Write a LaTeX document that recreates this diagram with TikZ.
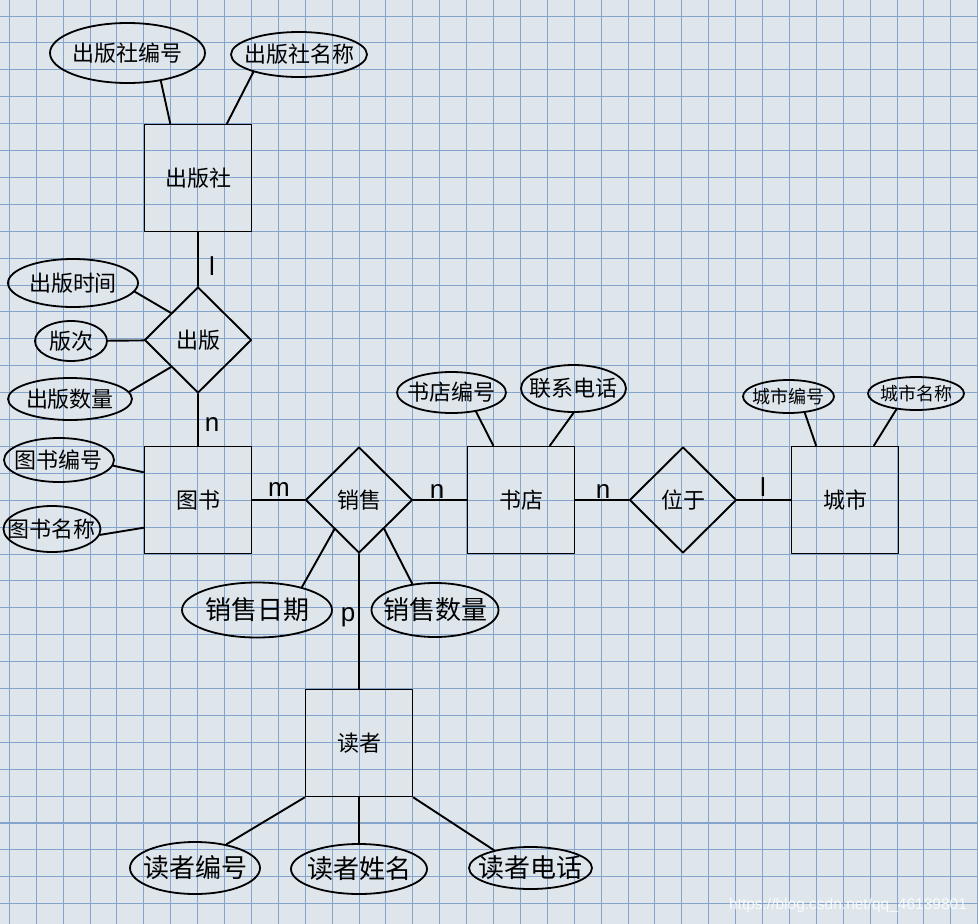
\documentclass[tikz,border=0pt]{standalone}
\usepackage{fontspec}
\setmainfont{Liberation Sans}
\newfontfamily\cjk{Noto Sans CJK SC}
\usepackage{tikz}
\usetikzlibrary{shapes.geometric}
\definecolor{paperblue}{RGB}{222,230,236}
\definecolor{gridblue}{RGB}{132,164,204}
\newcommand{\attrtext}[1]{\makebox[0pt]{#1}}

\tikzset{
  entity/.style={draw,line width=1.9pt,minimum width=107pt,minimum height=107pt,inner sep=0pt,font=\cjk\fontsize{22}{22}\selectfont},
  relation/.style={diamond,draw,line width=1.9pt,minimum width=107pt,minimum height=106pt,inner sep=0pt,font=\cjk\fontsize{22}{22}\selectfont},
  attr/.style={ellipse,draw,line width=1.8pt,inner sep=0pt,font=\cjk\fontsize{22}{22}\selectfont},
  bigattr/.style={attr,font=\cjk\fontsize{26}{26}\selectfont},
  smallattr/.style={attr,font=\cjk\fontsize{18}{18}\selectfont},
  card/.style={inner sep=0pt,font=\fontsize{26}{26}\selectfont},
  link/.style={line width=1.9pt},
  gridline/.style={gridblue,line width=0.9pt}
}

\begin{document}
\begin{tikzpicture}[x=1pt,y=-1pt,line cap=round,line join=round]
  % paper
  \useasboundingbox (0,0) rectangle (978,924);
  \fill[paperblue] (0,0) rectangle (978,924);
  \foreach \i in {0,...,36}
    \draw[gridline] (9.3+26.9*\i,0) -- (9.3+26.9*\i,924);
  \foreach \j in {0,...,33}
    \draw[gridline] (0,16+26.9*\j) -- (978,16+26.9*\j);
  \draw[gridblue,line width=2pt] (0,823) -- (978,823); % fold

  % entities
  \node[entity] (pub) at (198,178) {出版社};
  \node[entity] (book) at (198,500) {图书};
  \node[entity] (store) at (521,500) {书店};
  \node[entity] (city) at (845,500) {城市};
  \node[entity] (reader) at (359,743) {读者};

  % relations
  \node[relation] (publish) at (198,340) {出版};
  \node[relation] (sale) at (359,500) {销售};
  \node[relation] (located) at (683,500) {位于};

  % attributes
  \node[attr,minimum width=155pt,minimum height=60pt] (pubid) at (127.5,53) {\attrtext{出版社编号}};
  \node[attr,minimum width=136pt,minimum height=45pt] (pubname) at (299,54.5) {\attrtext{出版社名称}};
  \node[attr,minimum width=130pt,minimum height=48pt] (ptime) at (73,283) {\attrtext{出版时间}};
  \node[attr,minimum width=72pt,minimum height=40pt] (edition) at (71,341) {\attrtext{版次}};
  \node[attr,minimum width=124pt,minimum height=42pt] (pcount) at (70,399) {\attrtext{出版数量}};
  \node[attr,minimum width=110pt,minimum height=44pt] (bookid) at (59,460) {\attrtext{图书编号}};
  \node[attr,minimum width=97pt,minimum height=46pt] (bookname) at (52,529) {\attrtext{图书名称}};
  \node[bigattr,minimum width=150pt,minimum height=55pt] (saledate) at (257,610) {\attrtext{销售日期}};
  \node[bigattr,minimum width=127pt,minimum height=54pt] (salecount) at (435,610) {\attrtext{销售数量}};
  \node[attr,minimum width=109pt,minimum height=41pt] (storeid) at (451.5,392.5) {\attrtext{书店编号}};
  \node[attr,minimum width=105pt,minimum height=47pt] (storetel) at (573.5,388.5) {\attrtext{联系电话}};
  \node[smallattr,minimum width=91pt,minimum height=33pt] (cityid) at (788.5,396.5) {\attrtext{城市编号}};
  \node[smallattr,minimum width=96pt,minimum height=33pt] (cityname) at (916,393.5) {\attrtext{城市名称}};
  \node[bigattr,minimum width=130pt,minimum height=52pt] (readerid) at (195,868) {\attrtext{读者编号}};
  \node[bigattr,minimum width=136pt,minimum height=50pt] (readername) at (359,869) {\attrtext{读者姓名}};
  \node[bigattr,minimum width=123pt,minimum height=42pt] (readertel) at (530.5,868) {\attrtext{读者电话}};

  % relationships
  \draw[link] (pub) -- (publish);
  \draw[link] (publish) -- (book);
  \draw[link] (book) -- (sale);
  \draw[link] (sale) -- (store);
  \draw[link] (store) -- (located);
  \draw[link] (located) -- (city);
  \draw[link] (sale) -- (reader);

  % attribute links
  \draw[link] (pubid.320) -- (pub.117);
  \draw[link] (pubname.201) -- (pub.62);
  \draw[link] (ptime.352) -- (publish.135);
  \draw[link] (edition) -- (publish);
  \draw[link] (pcount.7) -- (publish.225);
  \draw[link] (bookid.354) -- (book.153);
  \draw[link] (bookname.353) -- (book.207);
  \draw[link] (saledate.27) -- (sale.230);
  \draw[link] (salecount.131) -- (sale.311);
  \draw[link] (storeid.322) -- (store.117);
  \draw[link] (storetel.south) -- (store.62);
  \draw[link] (cityid.315) -- (city.118);
  \draw[link] (cityname.219) -- (city.62);
  \draw[link] (reader.south west) -- (readerid.37);
  \draw[link] (reader) -- (readername);
  \draw[link] (reader.south east) -- (readertel.154);

  % cardinalities
  \node[card] (c1) at (212,266) {l};
  \node[card] (c2) at (212,424) {n};
  \node[card] (c3) at (279,489) {m};
  \node[card] (c4) at (437,491) {n};
  \node[card] (c5) at (603,491) {n};
  \node[card] (c6) at (763,487) {l};
  \node[card] (c7) at (348,617) {p};

  % watermark
  \node[text=white,opacity=0.85,font=\fontsize{15.5}{15.5}\selectfont] (mark) at (848,905) {https://blog.csdn.net/qq\_46139801};
\end{tikzpicture}
\end{document}
